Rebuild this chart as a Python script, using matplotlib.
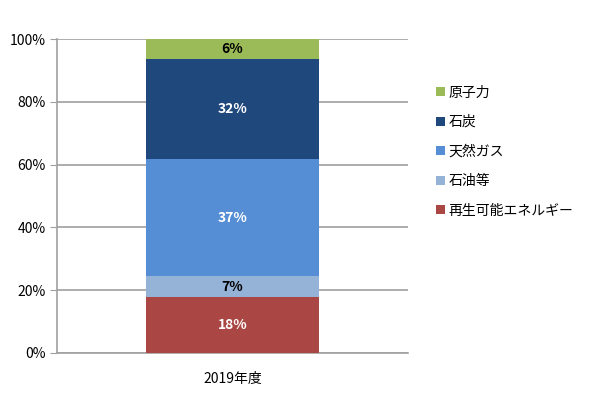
import matplotlib
matplotlib.use("Agg")
from matplotlib import pyplot as plt
from matplotlib.ticker import PercentFormatter

plt.rcParams["font.family"] = ["Noto Sans CJK JP", "DejaVu Sans"]

CATEGORY = "2019年度"
SOURCES = ["再生可能エネルギー", "石油等", "天然ガス", "石炭", "原子力"]
SHARES = [17.7, 6.7, 37.4, 31.8, 6.4]
SHARE_LABELS = ["18%", "7%", "37%", "32%", "6%"]
COLORS = ["#AA4643", "#95B3D7", "#558ED5", "#1F497D", "#9BBB59"]
LABEL_COLORS = ["white", "black", "white", "white", "black"]


def main():
    fig = plt.figure(figsize=(6, 3.99), dpi=100)
    ax = fig.add_axes([0.095, 0.1153, 0.585, 0.7867])

    bottom = 0
    handles = []
    for name, share, text, color, tcolor in zip(SOURCES, SHARES, SHARE_LABELS, COLORS, LABEL_COLORS):
        bars = ax.bar(0, share, width=0.493, bottom=bottom, color=color, label=name, zorder=3)
        handles.append(bars)
        ax.text(0, bottom + share / 2, text, ha="center", va="center",
                color=tcolor, fontsize=10, fontweight="bold", zorder=4)
        bottom += share

    ax.set_xlim(-0.5, 0.5)
    ax.set_ylim(0, 100)
    ax.set_yticks(range(0, 101, 20))
    ax.yaxis.set_major_formatter(PercentFormatter(decimals=0))
    ax.set_xticks([0])
    ax.set_xticklabels([CATEGORY])
    ax.tick_params(axis="x", length=0, pad=14, labelsize=10)
    ax.tick_params(axis="y", length=5, color="#A0A0A0", labelsize=10, pad=3)
    ax.grid(axis="y", color="#A0A0A0", linewidth=1.2, zorder=0)
    for side in ["top", "right"]:
        ax.spines[side].set_visible(False)
    for side in ["left", "bottom"]:
        ax.spines[side].set_color("#A0A0A0")
        ax.spines[side].set_linewidth(1.2)

    ax.legend(handles[::-1], SOURCES[::-1], loc="upper left", bbox_to_anchor=(1.045, 0.892),
              frameon=False, fontsize=10, handlelength=0.6, handleheight=0.6,
              handletextpad=0.3, labelspacing=1.12)

    fig.savefig("out.png", dpi=100)


if __name__ == "__main__":
    main()
